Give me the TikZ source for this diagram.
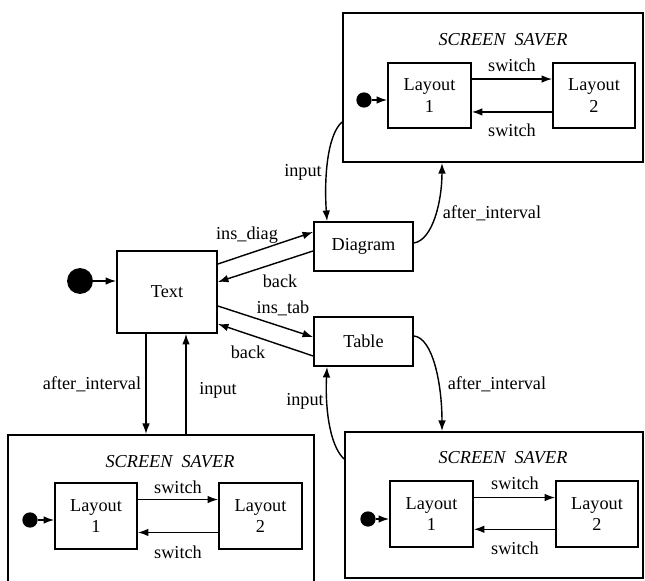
\documentclass[tikz,border=0pt]{standalone}
\usepackage{fontspec}
\setmainfont{Liberation Serif}
\usetikzlibrary{arrows.meta,fit}
\begin{document}
\begin{tikzpicture}[x=0.85pt,y=-0.85pt,
  every node/.style={font=\fontsize{15.5}{18}\selectfont},
  statebox/.style 2 args={draw,line width=1.5pt,minimum width=#1*0.85pt,minimum height=#2*0.85pt,inner sep=0pt,align=center},
  ssbox/.style={draw,line width=1.6pt,inner sep=0pt},
  initdot/.style={circle,fill=black,inner sep=0pt,minimum size=#1},
  arr/.style={line width=1.2pt,-{Latex[length=9pt,width=6.5pt]}},
  lbl/.style={inner sep=1pt},
  title/.style={font=\fontsize{15.5}{18}\itshape}
]
\useasboundingbox (0,0) rectangle (645,581);
\clip (0,0) rectangle (645,581);

% main states
\node[statebox={100}{82}] (text) at (167,292) {Text};
\node[statebox={99}{49}] (diagram) at (363.5,246.5) {Diagram};
\node[statebox={99}{49}] (table) at (363.5,341.5) {Table};
\node[initdot=22pt] (init) at (80,281) {};
\draw[arr] (init) -- (init -| text.west);

% screen saver reached from Diagram
\node[ssbox,fit={(343,13) (643,162)}] (ssTR) {};
\node[title] (ssTRtitle) at (503,40) {SCREEN\ \ SAVER};
\node[statebox={83}{65}] (trA) at (429.5,95.5) {Layout\\1};
\node[statebox={82}{65}] (trB) at (594,95.5) {Layout\\2};
\node[initdot=13pt] (trInit) at (364,100) {};
\draw[arr] (trInit) -- (trInit -| trA.west);
\draw[arr] ([yshift=14pt]trA.east) -- ([yshift=14pt]trA.east -| trB.west)
  node[lbl] (trS1) at (512,65) {switch};
\draw[arr] ([yshift=-14pt]trB.west) -- ([yshift=-14pt]trB.west -| trA.east)
  node[lbl] (trS2) at (512,130) {switch};

% screen saver reached from Text
\node[ssbox,fit={(8,435) (314,600)}] (ssBL) {};
\node[title] (ssBLtitle) at (170,462) {SCREEN\ \ SAVER};
\node[statebox={82}{66}] (blA) at (96,516) {Layout\\1};
\node[statebox={83}{66}] (blB) at (260.5,516) {Layout\\2};
\node[initdot=13pt] (blInit) at (30,520) {};
\draw[arr] (blInit) -- (blInit -| blA.west);
\draw[arr] ([yshift=14pt]blA.east) -- ([yshift=14pt]blA.east -| blB.west)
  node[lbl] (blS1) at (178,487) {switch};
\draw[arr] ([yshift=-14pt]blB.west) -- ([yshift=-14pt]blB.west -| blA.east)
  node[lbl] (blS2) at (178,552) {switch};

% screen saver reached from Table
\node[ssbox,fit={(345,432) (643,578)}] (ssBR) {};
\node[title] (ssBRtitle) at (503,458) {SCREEN\ \ SAVER};
\node[statebox={83}{66}] (brA) at (431.5,514) {Layout\\1};
\node[statebox={82}{66}] (brB) at (597,514) {Layout\\2};
\node[initdot=13pt] (brInit) at (368,519) {};
\draw[arr] (brInit) -- (brInit -| brA.west);
\draw[arr] ([yshift=14pt]brA.east) -- ([yshift=14pt]brA.east -| brB.west)
  node[lbl] (brS1) at (515,483) {switch};
\draw[arr] ([yshift=-13pt]brB.west) -- ([yshift=-13pt]brB.west -| brA.east)
  node[lbl] (brS2) at (515,548) {switch};

% transitions between Text, Diagram and Table
\draw[arr] ([yshift=23.8pt]text.east) -- ([yshift=12.3pt]diagram.west)
  node[lbl] (lInsDiag) at (247,235) {ins\_diag};
\draw[arr] ([yshift=-3.8pt]diagram.west) -- ([yshift=8.5pt]text.east)
  node[lbl] (lBack1) at (280,281) {back};
\draw[arr] ([yshift=-11.9pt]text.east) -- ([yshift=3.8pt]table.west)
  node[lbl] (lInsTab) at (283,308) {ins\_tab};
\draw[arr] ([yshift=-12.3pt]table.west) -- ([yshift=-27.2pt]text.east)
  node[lbl] (lBack2) at (248,352) {back};

% Text and its screen saver
\draw[arr] ([xshift=-17.85pt]text.south) -- ([xshift=-17.85pt]text.south |- ssBL.north)
  node[lbl] (lAfter1) at (92,384) {after\_interval};
\draw[arr] ([xshift=16.15pt]text.south |- ssBL.north) -- ([xshift=16.15pt]text.south)
  node[lbl] (lInput1) at (218,390) {input};

% Diagram and its screen saver
\draw[arr] ([yshift=-29.3pt]ssTR.west) .. controls +(-15,13) and +(-3,-42) .. ([xshift=-31pt]diagram.north)
  node[lbl] (lInput2) at (303,172) {input};
\draw[arr] ([yshift=3pt]diagram.east) .. controls +(19,-3) and +(0,38) .. ([xshift=-43.35pt]ssTR.south)
  node[lbl] (lAfter2) at (492,213) {after\_interval};

% Table and its screen saver
\draw[arr] ([yshift=4.7pt]table.east) .. controls +(19,2) and +(0,-47) .. ([xshift=-44.2pt]ssBR.north)
  node[lbl] (lAfter3) at (497,384) {after\_interval};
\draw[arr] ([yshift=39.1pt]ssBR.west) .. controls +(-15,-14) and +(-2,39) .. ([xshift=-31pt]table.south)
  node[lbl] (lInput3) at (305,401) {input};
\end{tikzpicture}
\end{document}
